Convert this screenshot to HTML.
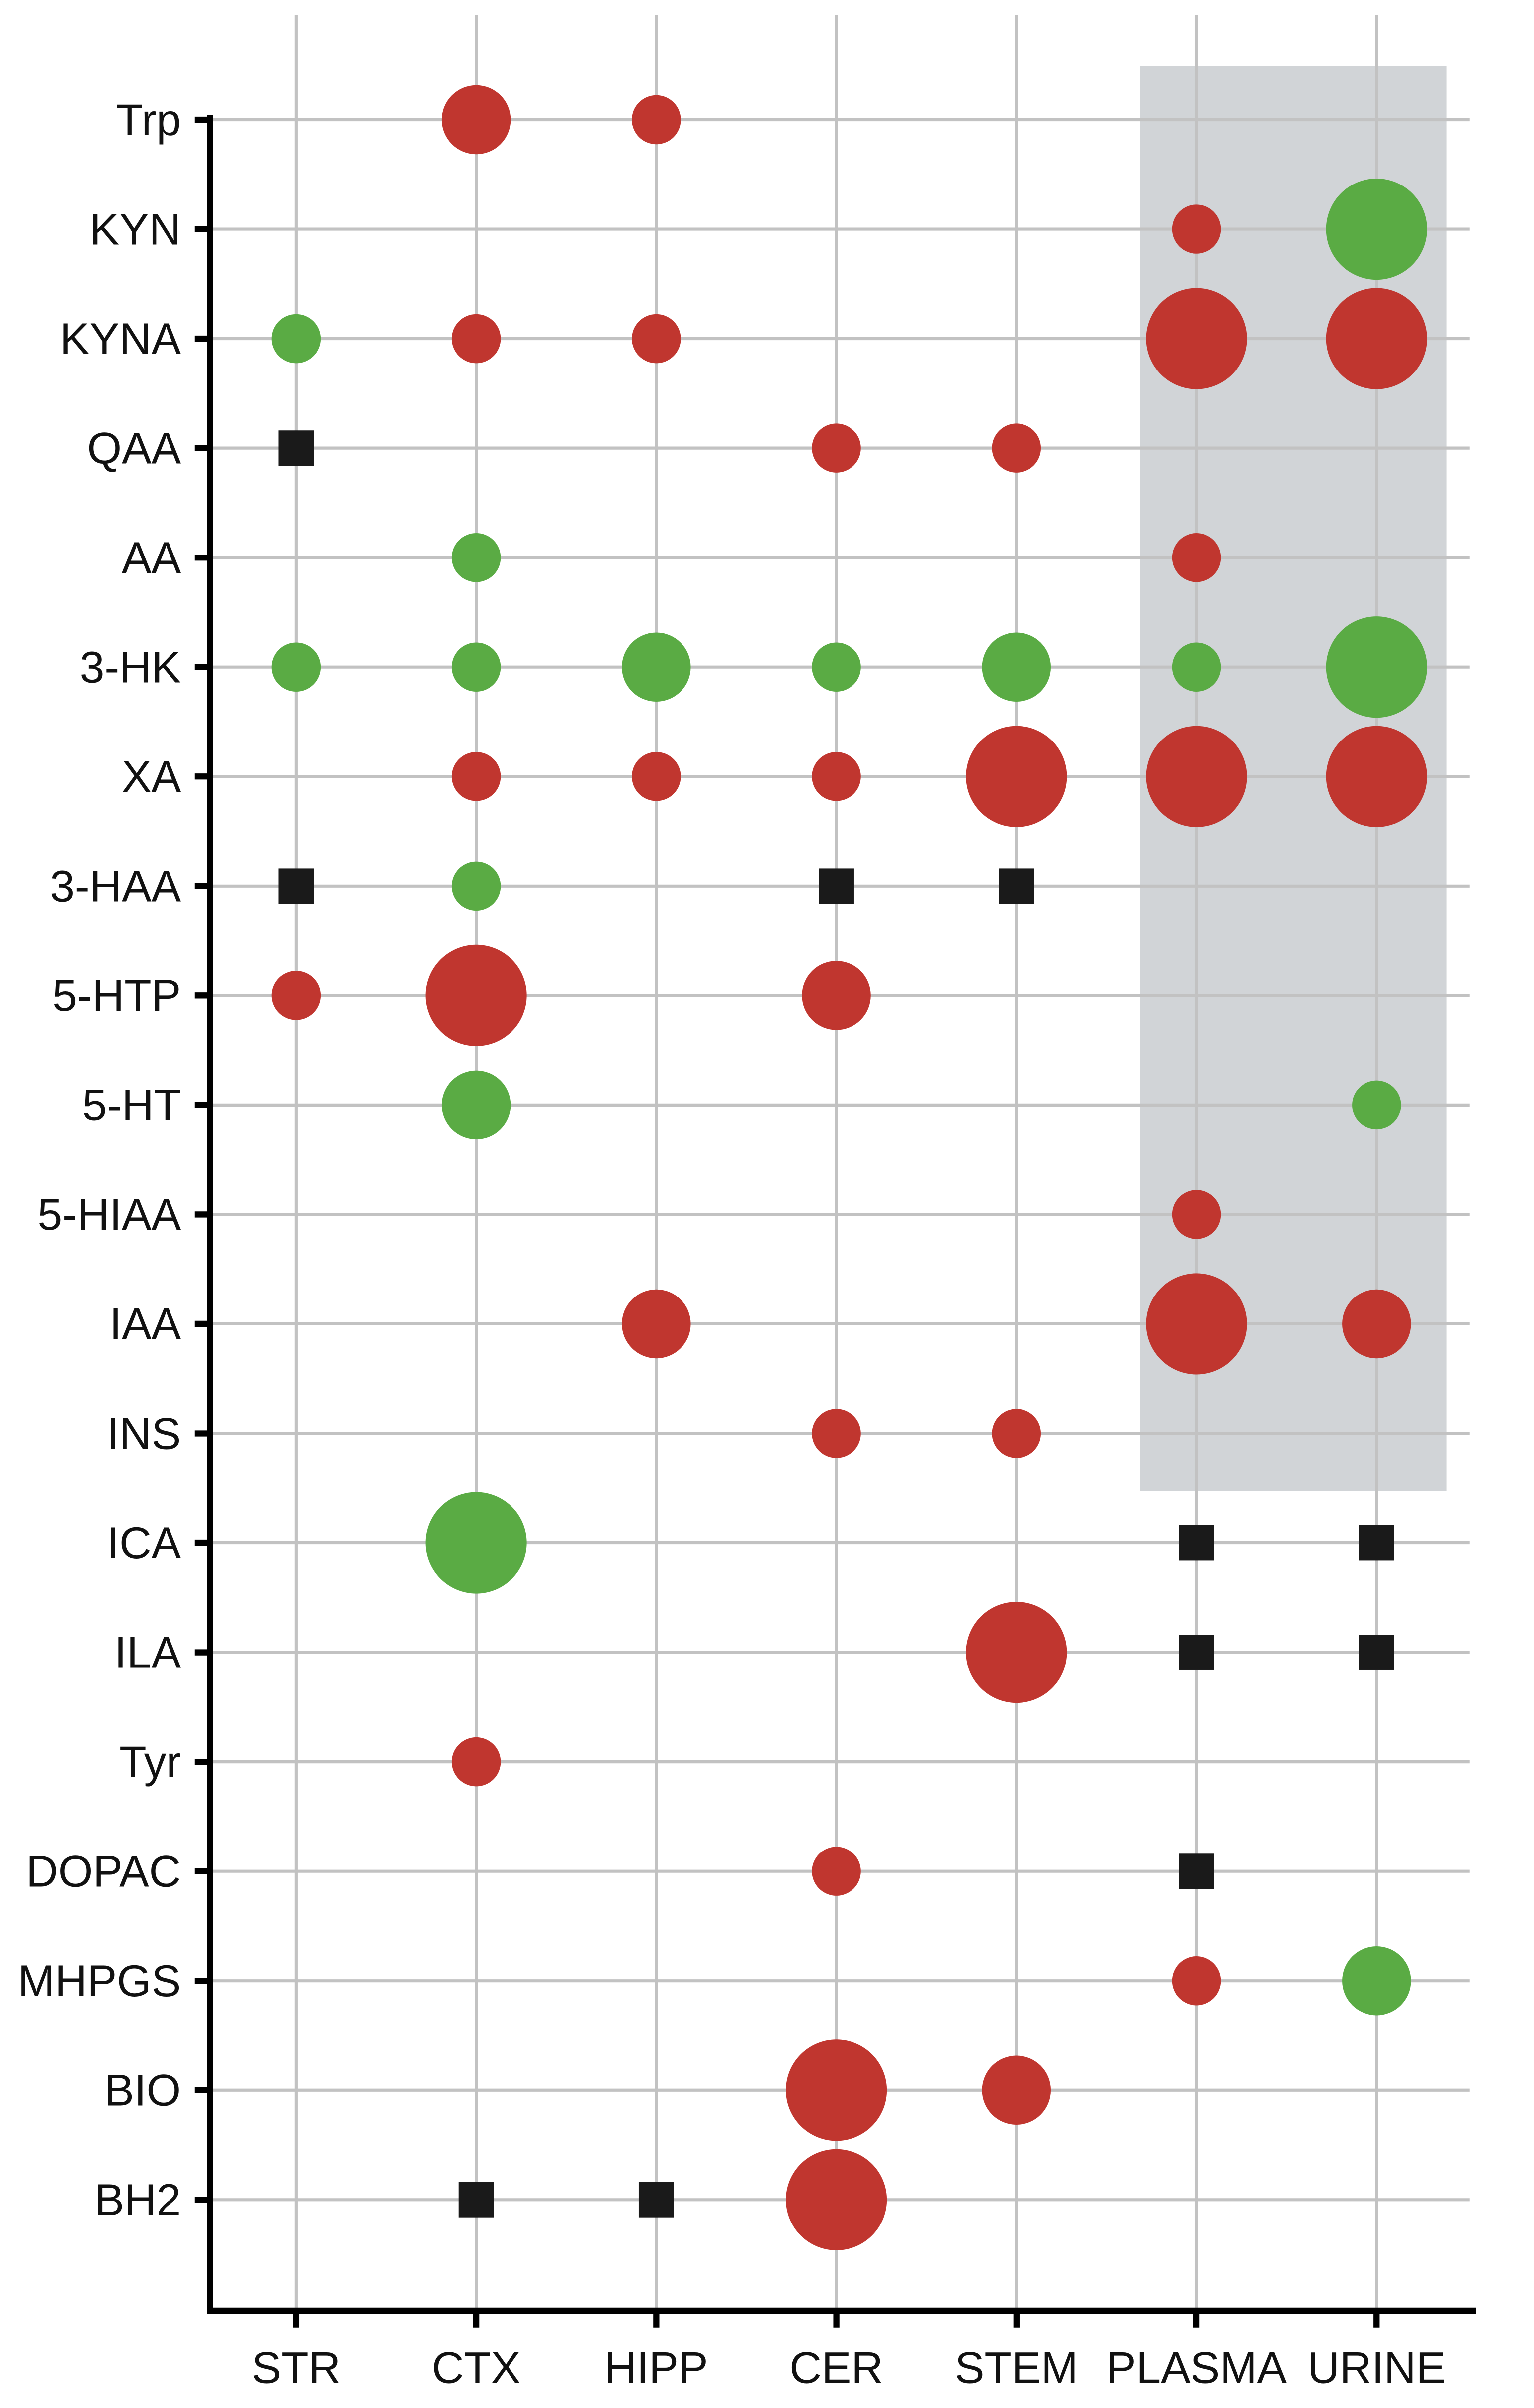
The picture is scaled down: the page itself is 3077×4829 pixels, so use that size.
<!DOCTYPE html>
<html><head><meta charset="utf-8"><style>html,body{margin:0;padding:0;background:#fff}svg{display:block}text{font-family:"Liberation Sans",Arial,sans-serif}</style></head>
<body>
<svg id="chart" width="3077" height="4829" viewBox="0 0 1000 1569.4" xmlns="http://www.w3.org/2000/svg"></svg>
<script>
const rows = ["Trp","KYN","KYNA","QAA","AA","3-HK","XA","3-HAA","5-HTP","5-HT","5-HIAA","IAA","INS","ICA","ILA","Tyr","DOPAC","MHPGS","BIO","BH2"];
const cols = ["STR","CTX","HIPP","CER","STEM","PLASMA","URINE"];
// each mark: row label, column label, type (up=red, down=green, nd=square), size class 1..3
const markRows = ["Trp","Trp","KYN","KYN","KYNA","KYNA","KYNA","KYNA","KYNA","QAA","QAA","QAA","AA","AA",
"3-HK","3-HK","3-HK","3-HK","3-HK","3-HK","3-HK","XA","XA","XA","XA","XA","XA","3-HAA","3-HAA","3-HAA","3-HAA",
"5-HTP","5-HTP","5-HTP","5-HT","5-HT","5-HIAA","IAA","IAA","IAA","INS","INS","ICA","ICA","ICA","ILA","ILA","ILA",
"Tyr","DOPAC","DOPAC","MHPGS","MHPGS","BIO","BIO","BH2","BH2","BH2"];
const markCols = ["CTX","HIPP","PLASMA","URINE","STR","CTX","HIPP","PLASMA","URINE","STR","CER","STEM","CTX","PLASMA",
"STR","CTX","HIPP","CER","STEM","PLASMA","URINE","CTX","HIPP","CER","STEM","PLASMA","URINE","STR","CTX","CER","STEM",
"STR","CTX","CER","CTX","URINE","PLASMA","HIPP","PLASMA","URINE","CER","STEM","CTX","PLASMA","URINE","STEM","PLASMA","URINE",
"CTX","CER","PLASMA","PLASMA","URINE","CER","STEM","CTX","HIPP","CER"];
const markTypes = ["up","up","up","down","down","up","up","up","up","nd","up","up","down","up",
"down","down","down","down","down","down","down","up","up","up","up","up","up","nd","down","nd","nd",
"up","up","up","down","down","up","up","up","up","up","up","down","nd","nd","up","nd","nd",
"up","up","nd","up","down","up","up","nd","nd","up"];
const markSizes = [2,1,1,3,1,1,1,3,3,1,1,1,1,1,
1,1,2,1,2,1,3,1,1,1,3,3,3,1,1,1,1,
1,3,2,2,1,1,2,3,2,1,1,3,1,1,3,1,1,
1,1,1,1,2,3,2,1,1,3];

const NS="http://www.w3.org/2000/svg";
const svg=document.getElementById('chart');
const X0=137, Y0=1506;
const xScale=c=>193+cols.indexOf(c)*117.4;
const yScale=r=>78+rows.indexOf(r)*71.35;
const rad=[0,16,22.5,33];
function mk(tag,attrs){const e=document.createElementNS(NS,tag);for(const k in attrs)e.setAttribute(k,attrs[k]);svg.appendChild(e);return e;}

let g=mk('rect',{x:743,y:43,width:200,height:929,fill:'#d1d4d7'});



rows.forEach(r=>{
  const y=yScale(r);
  const l=mk('line',{x1:X0,x2:958,y1:y,y2:y,stroke:'#c2c2c2','stroke-width':2});
  
  
  const t=mk('line',{x1:127,x2:X0,y1:y,y2:y,stroke:'#000','stroke-width':4});
  
  
  const tx=mk('text',{x:118,y:y+10,'text-anchor':'end','font-size':29,fill:'#111'});
  tx.textContent=r;
  
  
});
cols.forEach(c=>{
  const x=xScale(c);
  const l=mk('line',{x1:x,x2:x,y1:10,y2:Y0,stroke:'#c2c2c2','stroke-width':2});
  
  
  const t=mk('line',{x1:x,x2:x,y1:Y0,y2:1517,stroke:'#000','stroke-width':4});
  
  
  const tx=mk('text',{x:x,y:1553,'text-anchor':'middle','font-size':29,fill:'#111'});
  tx.textContent=c;
  
  
});
let ax=mk('path',{d:`M${X0} 75 V${Y0} H962`,fill:'none',stroke:'#000','stroke-width':4});



markRows.forEach((r,i)=>{
  const x=xScale(markCols[i]), y=yScale(r), t=markTypes[i];
  let e;
  if(t==='nd'){
    e=mk('rect',{x:x-11.5,y:y-11.5,width:23,height:23,fill:'#1a1a1a'});
  } else {
    e=mk('circle',{cx:x,cy:y,r:rad[markSizes[i]],fill:t==='up'?'#c0362f':'#5aab44'});
  }
  
  
});
</script>
</body></html>
